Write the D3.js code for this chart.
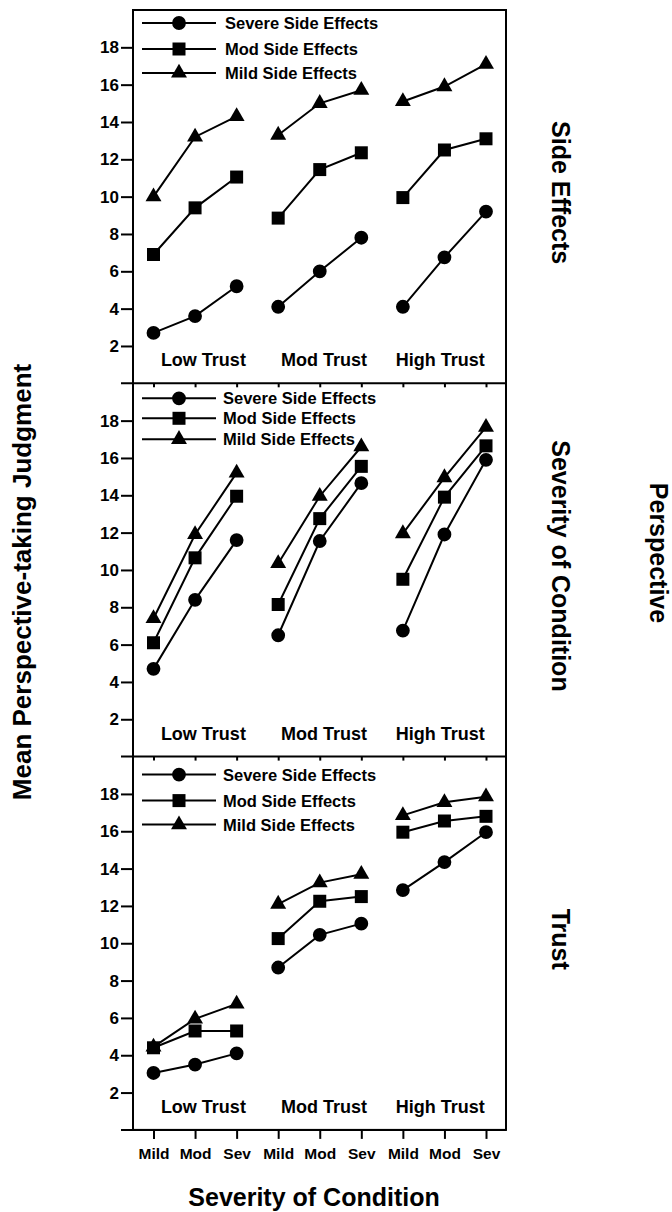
<!DOCTYPE html>
<html>
<head>
<script src="https://d3js.org/d3.v7.min.js"></script>
<style>
  body {margin: 0; background: #fff;}
  svg {font-family: "Liberation Sans", Arial, Helvetica, sans-serif; font-weight: bold;}
  .axis .domain {display: none;}
  .axis line {stroke: #000; stroke-width: 2;}
  .axis text {fill: #000;}
</style>
</head>
<body>
<svg id="chart" width="672" height="1212"></svg>
<script>
// data
var panelNames = ["Side Effects", "Severity of Condition", "Trust"];
var trustLevels = ["Low Trust", "Mod Trust", "High Trust"];
var conditions = ["Mild", "Mod", "Sev"];
var seriesNames = ["Severe Side Effects", "Mod Side Effects", "Mild Side Effects"];
var symbols = [d3.symbolCircle, d3.symbolSquare, d3.symbolTriangle];
var yTicks = [2, 4, 6, 8, 10, 12, 14, 16, 18];

// each array: Low Trust (Mild, Mod, Sev), Mod Trust (...), High Trust (...)
var sideSevere = [2.7, 3.6, 5.2, 4.1, 6.0, 7.8, 4.1, 6.75, 9.2];
var sideMod    = [6.9, 9.4, 11.05, 8.85, 11.45, 12.35, 9.95, 12.5, 13.1];
var sideMild   = [10.0, 13.2, 14.3, 13.3, 15.0, 15.7, 15.1, 15.9, 17.1];

var sevSevere = [4.7, 8.4, 11.6, 6.5, 11.55, 14.65, 6.75, 11.9, 15.9];
var sevMod    = [6.1, 10.65, 13.95, 8.15, 12.75, 15.55, 9.5, 13.9, 16.65];
var sevMild   = [7.4, 11.9, 15.2, 10.35, 13.95, 16.6, 11.95, 14.95, 17.65];

var trustSevere = [3.05, 3.5, 4.1, 8.7, 10.45, 11.05, 12.85, 14.35, 15.95];
var trustMod    = [4.4, 5.3, 5.3, 10.25, 12.25, 12.5, 15.95, 16.55, 16.8];
var trustMild   = [4.45, 5.95, 6.75, 12.1, 13.25, 13.7, 16.85, 17.55, 17.85];

var panelData = [
  [sideSevere, sideMod, sideMild],
  [sevSevere, sevMod, sevMild],
  [trustSevere, trustMod, trustMild]
];

// layout
var svg = d3.select("#chart");
var left = 133, right = 506, top0 = 10, panelH = 373.3;
var legendRows = [[13, 39, 63], [15, 35, 56], [18, 44, 68]];
var labelPos = [1.2, 4.1, 6.9];

var x = d3.scaleLinear().domain([0, 8]).range([153.5, 486]);

panelData.forEach(function(series, p) {
  var top = top0 + p * panelH;
  var y = d3.scaleLinear().domain([0, 20]).range([top + panelH, top]);
  var g = svg.append("g");

  // y axis
  g.append("g")
    .attr("class", "axis")
    .attr("transform", "translate(" + left + ",0)")
    .call(d3.axisLeft(y).tickValues(yTicks).tickSize(12).tickPadding(2))
    .selectAll("text")
    .attr("font-size", 17)
    .attr("font-family", "Liberation Sans, Arial, sans-serif")
    .attr("font-weight", "bold");

  // small ticks under panel (outer ticks on the last one get labels)
  if (p < 2) {
    g.append("g")
      .attr("class", "axis")
      .attr("transform", "translate(0," + (top + panelH) + ")")
      .call(d3.axisBottom(x).tickValues(d3.range(9)).tickSize(4).tickFormat(""));
  }

  // lines, one per trust group
  series.forEach(function(vals, s) {
    trustLevels.forEach(function(t, j) {
      var pts = vals.slice(j * 3, j * 3 + 3).map(function(v, k) { return [j * 3 + k, v]; });
      g.append("path")
        .datum(pts)
        .attr("fill", "none")
        .attr("stroke", "#000")
        .attr("stroke-width", 2)
        .attr("d", d3.line().x(function(d) { return x(d[0]); }).y(function(d) { return y(d[1]); }));
    });
    g.selectAll(null)
      .data(vals)
      .enter().append("path")
      .attr("transform", function(d, i) { return "translate(" + x(i) + "," + y(d) + ")"; })
      .attr("d", d3.symbol().type(symbols[s]).size([150, 169, 110][s]))
      .attr("fill", "#000");
  });

  // legend
  var legend = g.selectAll(".leg")
    .data(seriesNames)
    .enter().append("g")
    .attr("transform", function(d, i) { return "translate(0," + (top + legendRows[p][i]) + ")"; });
  legend.append("line")
    .attr("x1", 142).attr("x2", 216)
    .attr("stroke", "#000").attr("stroke-width", 2);
  legend.append("path")
    .attr("transform", "translate(179,0)")
    .attr("d", function(d, i) { return d3.symbol().type(symbols[i]).size([150, 169, 110][i])(); })
    .attr("fill", "#000");
  legend.append("text")
    .attr("x", p == 0 ? 225 : 223)
    .attr("dy", "0.36em")
    .attr("font-size", 16.5)
    .text(function(d) { return d; });

  // trust group labels
  g.selectAll(".grp")
    .data(trustLevels)
    .enter().append("text")
    .attr("x", function(d, i) { return x(labelPos[i]); })
    .attr("y", y(0) - 17)
    .attr("text-anchor", "middle")
    .attr("font-size", 18)
    .text(function(d) { return d; });

  // right label
  svg.append("text")
    .attr("transform", "translate(561," + (top + panelH / 2 - 4) + ") rotate(90)")
    .attr("text-anchor", "middle")
    .attr("dy", "0.36em")
    .attr("font-size", 25)
    .text(panelNames[p]);
});

// frame and panel dividers
var bottom = top0 + 3 * panelH;
svg.append("rect")
  .attr("x", left).attr("y", top0)
  .attr("width", right - left).attr("height", bottom - top0)
  .attr("fill", "none").attr("stroke", "#000").attr("stroke-width", 2);
[1, 2, 3].forEach(function(k) {
  svg.append("line")
    .attr("x1", 121).attr("x2", right)
    .attr("y1", top0 + k * panelH).attr("y2", top0 + k * panelH)
    .attr("stroke", "#000").attr("stroke-width", 2);
});

// bottom axis
svg.append("g")
  .attr("class", "axis")
  .attr("transform", "translate(0," + bottom + ")")
  .call(d3.axisBottom(x).tickValues(d3.range(9)).tickSize(9).tickPadding(9)
    .tickFormat(function(i) { return conditions[i % 3]; }))
  .selectAll("text")
  .attr("font-size", 15.5)
  .attr("font-family", "Liberation Sans, Arial, sans-serif")
  .attr("font-weight", "bold");

// titles
svg.append("text")
  .attr("x", 314).attr("y", 1206)
  .attr("text-anchor", "middle")
  .attr("font-size", 25)
  .text("Severity of Condition");

svg.append("text")
  .attr("transform", "translate(22,582) rotate(-90)")
  .attr("text-anchor", "middle")
  .attr("dy", "0.36em")
  .attr("font-size", 26)
  .text("Mean Perspective-taking Judgment");

svg.append("text")
  .attr("transform", "translate(659,553) rotate(90)")
  .attr("text-anchor", "middle")
  .attr("dy", "0.36em")
  .attr("font-size", 25)
  .text("Perspective");
</script>
</body>
</html>
